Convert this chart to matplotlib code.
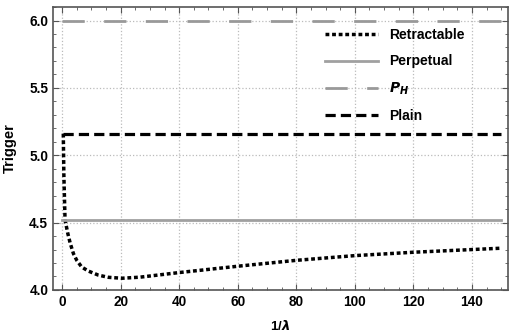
import matplotlib
matplotlib.use("Agg")
import matplotlib.pyplot as plt
from matplotlib.ticker import MultipleLocator

plt.rcParams['font.family'] = ['Liberation Sans', 'DejaVu Sans']
plt.rcParams['font.weight'] = 'bold'

# data
retract_x = [0.4, 0.6, 1.0, 1.94, 2.73, 3.86, 5.0, 6.7, 9.0, 12.4, 15.8, 20.4, 26.6, 40.3, 60.8, 80, 100, 120, 140, 150]
retract_y = [5.16, 4.85, 4.52, 4.42, 4.35, 4.27, 4.22, 4.17, 4.14, 4.11, 4.094, 4.087, 4.095, 4.13, 4.178, 4.22, 4.255, 4.28, 4.30, 4.31]
perpetual_x = [0, 150]
perpetual_y = [4.52, 4.52]
ph_x = [0, 150]
ph_y = [6.0, 6.0]
plain_x = [0.4, 150]
plain_y = [5.16, 5.16]

fig = plt.figure(figsize=(5.1, 3.36), dpi=100)
ax = fig.add_axes([0.104, 0.137, 0.892, 0.842])

ax.plot(retract_x, retract_y, color="black", lw=2.5, dashes=(1.1, 0.8), label="Retractable")
ax.plot(perpetual_x, perpetual_y, color="#a0a0a0", lw=2, label="Perpetual")
ax.plot(ph_x, ph_y, color="#999999", lw=2, dashes=(8, 7), label="$\\boldsymbol{P_H}$")
ax.plot(plain_x, plain_y, color="black", lw=2.3, dashes=(3.2, 1.6), label="Plain")

ax.set_xlim(-3.1, 152.3)
ax.set_ylim(4.0, 6.1)
ax.xaxis.set_major_locator(MultipleLocator(20))
ax.xaxis.set_minor_locator(MultipleLocator(5))
ax.yaxis.set_major_locator(MultipleLocator(0.5))
ax.yaxis.set_minor_locator(MultipleLocator(0.1))
ax.yaxis.set_major_formatter(matplotlib.ticker.FormatStrFormatter("%.1f"))
ax.tick_params(which="both", direction="in", top=True, right=True, color="#555555",
               labeltop=False, labelright=False, labelsize=9.8)
ax.tick_params(which="major", length=4)
ax.tick_params(which="minor", length=2)
for s in ax.spines.values():
    s.set_color("#555555")
    s.set_linewidth(1.2)
ax.grid(True, which="major", color="#bbbbbb", linestyle=":", lw=0.9)

ax.set_xlabel("1/$\\lambda$", fontsize=9.5, fontweight="bold", labelpad=7)
ax.set_ylabel("Trigger", fontsize=10.5, fontweight="bold", labelpad=9)

leg = ax.legend(loc="upper right", bbox_to_anchor=(0.92, 0.95), frameon=False,
                handlelength=3.8, labelspacing=0.88, borderpad=0, handletextpad=0.8,
                prop={"weight": "bold", "size": 10})

fig.savefig("out.png", dpi=100)
